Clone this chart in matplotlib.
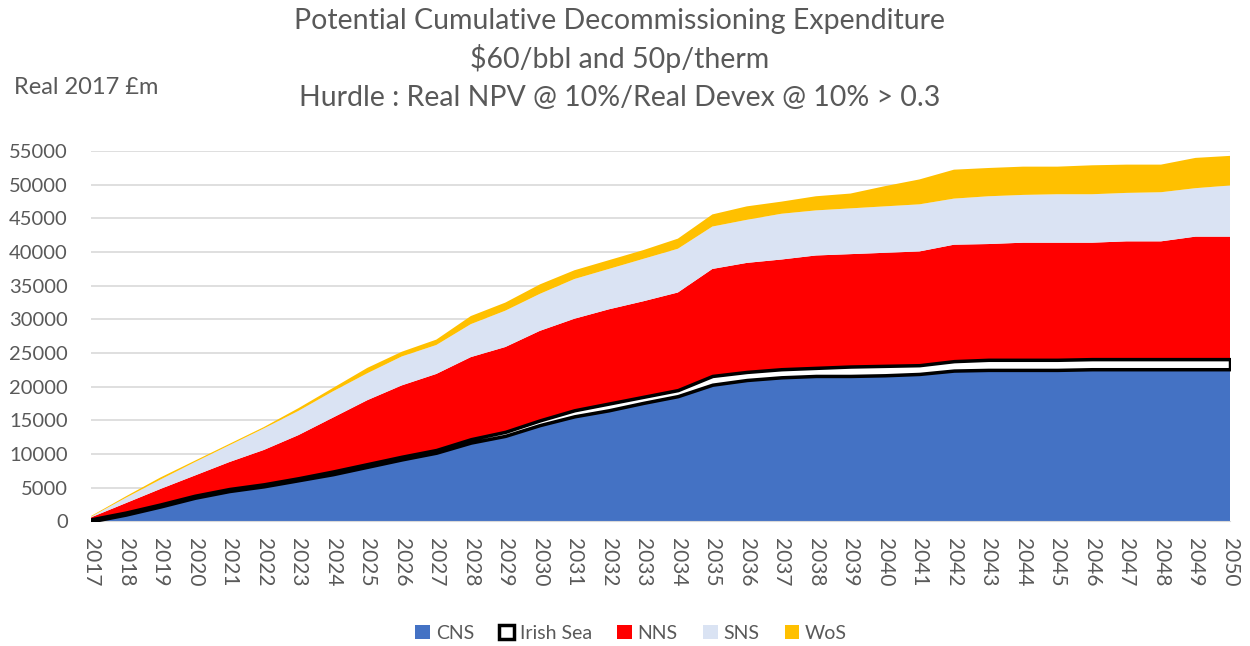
import numpy as np
import matplotlib.pyplot as plt
from matplotlib.patches import Patch

""" Data (Real 2017 £m, cumulative) """
years = list(range(2017, 2051))
cns = [0, 1000, 2200, 3500, 4500, 5200, 6100, 7000, 8100, 9200,
       10200, 11700, 12700, 14300, 15600, 16500, 17600, 18600, 20300, 21000,
       21400, 21600, 21600, 21700, 21900, 22400, 22500, 22500, 22500, 22600,
       22600, 22600, 22600, 22600]
irish_sea = [300, 300, 300, 300, 300, 300, 300, 400, 400, 400,
             400, 500, 600, 700, 900, 1000, 900, 900, 1300, 1200,
             1200, 1200, 1400, 1400, 1300, 1400, 1500, 1500, 1500, 1500,
             1500, 1500, 1500, 1500]
nns_top = [600, 2700, 4800, 6800, 8800, 10600, 12800, 15400, 18000, 20200,
           21900, 24400, 25900, 28300, 30100, 31500, 32700, 34000, 37500, 38400,
           38900, 39500, 39700, 39900, 40100, 41100, 41200, 41400, 41400, 41400,
           41600, 41600, 42300, 42300]
sns_top = [700, 3500, 6200, 8800, 11300, 13800, 16400, 19300, 22000, 24500,
           26200, 29300, 31300, 33800, 36000, 37500, 39000, 40500, 43800, 44800,
           45700, 46200, 46500, 46800, 47100, 47950, 48300, 48500, 48600, 48600,
           48800, 48900, 49500, 49900]
wos_top = [800, 3700, 6500, 9000, 11500, 14000, 16800, 19800, 22800, 25200,
           27000, 30500, 32500, 35200, 37300, 38800, 40300, 42000, 45600, 46800,
           47500, 48300, 48700, 49800, 50800, 52250, 52500, 52700, 52700, 52900,
           53000, 53000, 54000, 54300]

cns = np.array(cns)
irish_sea = np.array(irish_sea)
nns = np.array(nns_top) - cns - irish_sea
sns = np.array(sns_top) - np.array(nns_top)
wos = np.array(wos_top) - np.array(sns_top)

labels = ['CNS', 'Irish Sea', 'NNS', 'SNS', 'WoS']
colors = ['#4472C4', '#FFFFFF', '#FF0000', '#DAE3F3', '#FFC000']
FONT = 'Lato'
GREY = '#595959'

fig = plt.figure(figsize=(12.5, 6.46), dpi=100)
ax = fig.add_axes([0.073, 0.193, 0.911, 0.573])

polys = ax.stackplot(years, cns, irish_sea, nns, sns, wos,
                     colors=colors, linewidth=0)
polys[1].set_edgecolor('black')
polys[1].set_linewidth(2.5)
polys[1].set_zorder(3)

ax.set_xlim(2017, 2050)
ax.set_ylim(0, 55000)
ax.set_yticks(np.arange(0, 55001, 5000))
ax.set_xticks(years)
ax.set_xticklabels([str(y) for y in years], rotation=-90)
ax.grid(axis='y', color='#D9D9D9', lw=1.2)
ax.set_axisbelow(True)
for s in ['top', 'right', 'left']:
    ax.spines[s].set_visible(False)
ax.spines['bottom'].set_color('#D9D9D9')
ax.tick_params(axis='both', length=0, colors=GREY)
ax.tick_params(axis='x', pad=12, labelsize=15)
ax.tick_params(axis='y', pad=17, labelsize=14.5)
for t in ax.get_xticklabels() + ax.get_yticklabels():
    t.set_fontfamily(FONT)

fig.text(0.496, 0.968, 'Potential Cumulative Decommissioning Expenditure',
         ha='center', va='center', fontsize=20.5, color=GREY, family=FONT)
fig.text(0.496, 0.909, '$60/bbl and 50p/therm',
         ha='center', va='center', fontsize=20.5, color=GREY, family=FONT)
fig.text(0.496, 0.849, 'Hurdle : Real NPV @ 10%/Real Devex @ 10% > 0.3',
         ha='center', va='center', fontsize=20.5, color=GREY, family=FONT)
fig.text(0.011, 0.865, 'Real 2017 £m', ha='left', va='center',
         fontsize=17, color=GREY, family=FONT)

handles = [Patch(facecolor=c, edgecolor='black' if l == 'Irish Sea' else c,
                 linewidth=2.5 if l == 'Irish Sea' else 0)
           for l, c in zip(labels, colors)]
fig.legend(handles, labels, loc='center', bbox_to_anchor=(0.505, 0.02),
           ncol=5, frameon=False, handlelength=0.75,
           handleheight=0.75, handletextpad=0.3, columnspacing=1.3,
           prop={'family': FONT, 'size': 14}, labelcolor=GREY)

fig.savefig('out.png', dpi=100)
